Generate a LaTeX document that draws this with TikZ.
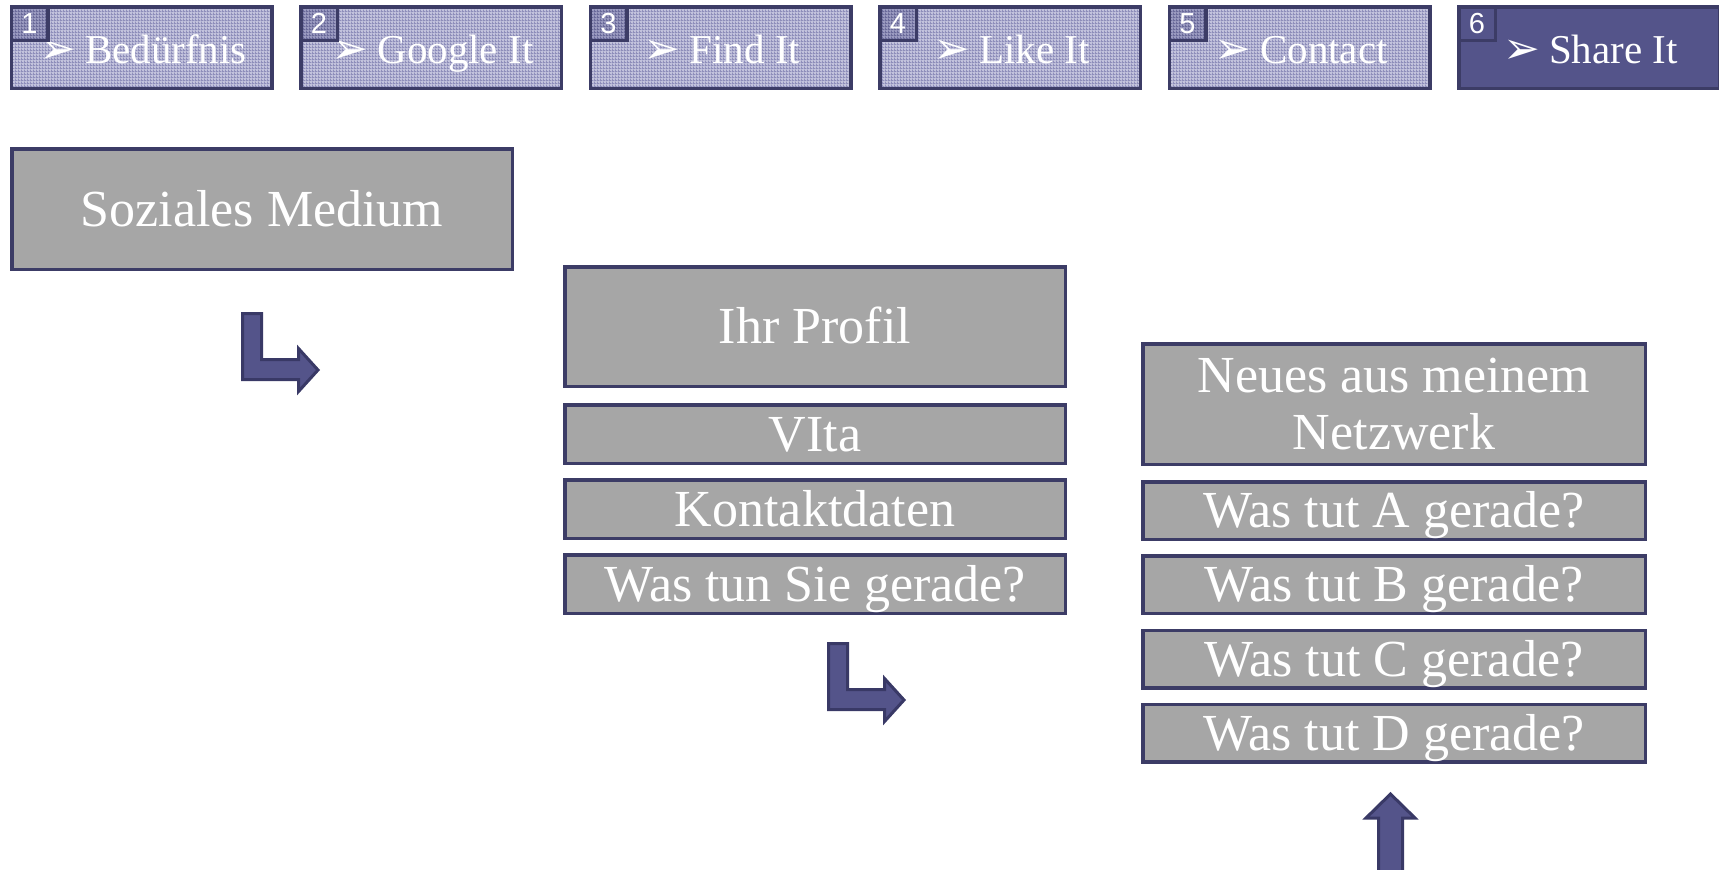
\documentclass[tikz,border=0pt]{standalone}
\usepackage{fontspec}
\setmainfont{Liberation Serif}
\newfontfamily\numfont{Liberation Sans}
\newfontfamily\symfont{DejaVu Sans}
\usetikzlibrary{patterns}
\definecolor{boxgray}{HTML}{A6A6A6}
\definecolor{navy}{HTML}{3C3C66}
\definecolor{violet}{HTML}{54548A}
\definecolor{arrowedge}{HTML}{393966}
\definecolor{tabbase}{HTML}{C2C2DC}
\definecolor{tabline}{HTML}{8E8EBA}
\definecolor{numbase}{HTML}{9A9AC0}
\definecolor{numline}{HTML}{6A6A9A}
\pgfdeclarepatternformonly{tabgrid}{\pgfpointorigin}{\pgfpoint{3pt}{3pt}}{\pgfpoint{3pt}{3pt}}{%
  \pgfpathrectangle{\pgfpointorigin}{\pgfpoint{3pt}{1pt}}\pgfusepath{fill}%
  \pgfpathrectangle{\pgfpointorigin}{\pgfpoint{1pt}{3pt}}\pgfusepath{fill}}
\newcommand\tablabel[1]{\hspace{3pt}{\symfont\fontsize{44}{44}\selectfont ➢}\hspace{9pt}#1}
\tikzset{
  mbox/.style={draw=navy, line width=3.5pt, fill=boxgray, text=white, inner sep=0pt,
    font=\fontsize{52}{57}\selectfont, align=center},
  oneline/.style={text height=34.4pt, text depth=0pt},
  tabbox/.style={draw=navy, line width=3.5pt, minimum width=260.5pt, minimum height=81.5pt,
    inner sep=0pt, anchor=north west, text=white, font=\fontsize{41}{41}\selectfont,
    text height=31pt, text depth=0pt},
  tabidle/.style={tabbox, preaction={fill=tabbase}, pattern=tabgrid, pattern color=tabline},
  tabact/.style={tabbox, fill=violet},
  numbox/.style={draw=navy, line width=3.5pt, minimum width=36.5pt, minimum height=33.5pt,
    inner sep=0pt, anchor=north west, text=white, font=\numfont\fontsize{29}{29}\selectfont},
  numidle/.style={numbox, preaction={fill=numbase}, pattern=tabgrid, pattern color=numline},
  numact/.style={numbox, fill=violet},
  arrowshape/.style={draw=arrowedge, fill=violet, line width=3pt, line join=miter},
  bentarrow/.pic={
    \path[arrowshape] (1.5,1.5) -- (20.5,1.5) -- (20.5,47.5) -- (57.5,47.5) -- (57.5,36.5)
      -- (77,58) -- (57.5,79.5) -- (57.5,67.5) -- (1.5,67.5) -- cycle;
  }
}
\begin{document}
\begin{tikzpicture}[x=1pt, y=-1pt]
\useasboundingbox (0,0) rectangle (1719,870);
\clip (0,0) rectangle (1719,870);
% tabs
\foreach \i/\t in {1/Bedürfnis, 2/Google It, 3/Find It, 4/Like It, 5/Contact} {
  \node[tabidle] (tab\i) at ({9.5+289.5*(\i-1)},5) {\tablabel{\t}};
  \node[numidle] (num\i) at (tab\i.north west) {\i};
}
\node[tabact] (tab6) at (1457,5) {\tablabel{Share It}};
\node[numact] (num6) at (tab6.north west) {6};
% column 1
\node[mbox, oneline, minimum width=500.5pt, minimum height=120.5pt] (soz) at (262,209) {Soziales Medium};
% column 2
\node[mbox, oneline, minimum width=500.5pt, minimum height=119.5pt] (profil) at (815,326.5) {Ihr Profil};
\node[mbox, oneline, minimum width=500.5pt, minimum height=58.5pt] (vita) at (815,434) {VIta};
\node[mbox, oneline, minimum width=500.5pt, minimum height=58.5pt] (kontakt) at (815,509) {Kontaktdaten};
\node[mbox, oneline, minimum width=500.5pt, minimum height=58.5pt] (wastun) at (815,584) {Was tun Sie gerade?};
% column 3
\node[mbox, minimum width=502.5pt, minimum height=120.5pt] (neues) at (1394,404) {Neues aus meinem\\Netzwerk};
\node[mbox, oneline, minimum width=502.5pt, minimum height=57.5pt] (wa) at (1394,510.5) {Was tut A gerade?};
\node[mbox, oneline, minimum width=502.5pt, minimum height=57.5pt] (wb) at (1394,584.5) {Was tut B gerade?};
\node[mbox, oneline, minimum width=502.5pt, minimum height=57.5pt] (wc) at (1394,659) {Was tut C gerade?};
\node[mbox, oneline, minimum width=502.5pt, minimum height=57.5pt] (wd) at (1394,733) {Was tut D gerade?};
% arrows
\pic at (241,312) {bentarrow};
\pic at (827,642) {bentarrow};
\path[arrowshape] (1378.5,880) -- (1378.5,818) -- (1366,818) -- (1390.5,794) -- (1415,818)
  -- (1402.5,818) -- (1402.5,880) -- cycle;
\end{tikzpicture}
\end{document}
